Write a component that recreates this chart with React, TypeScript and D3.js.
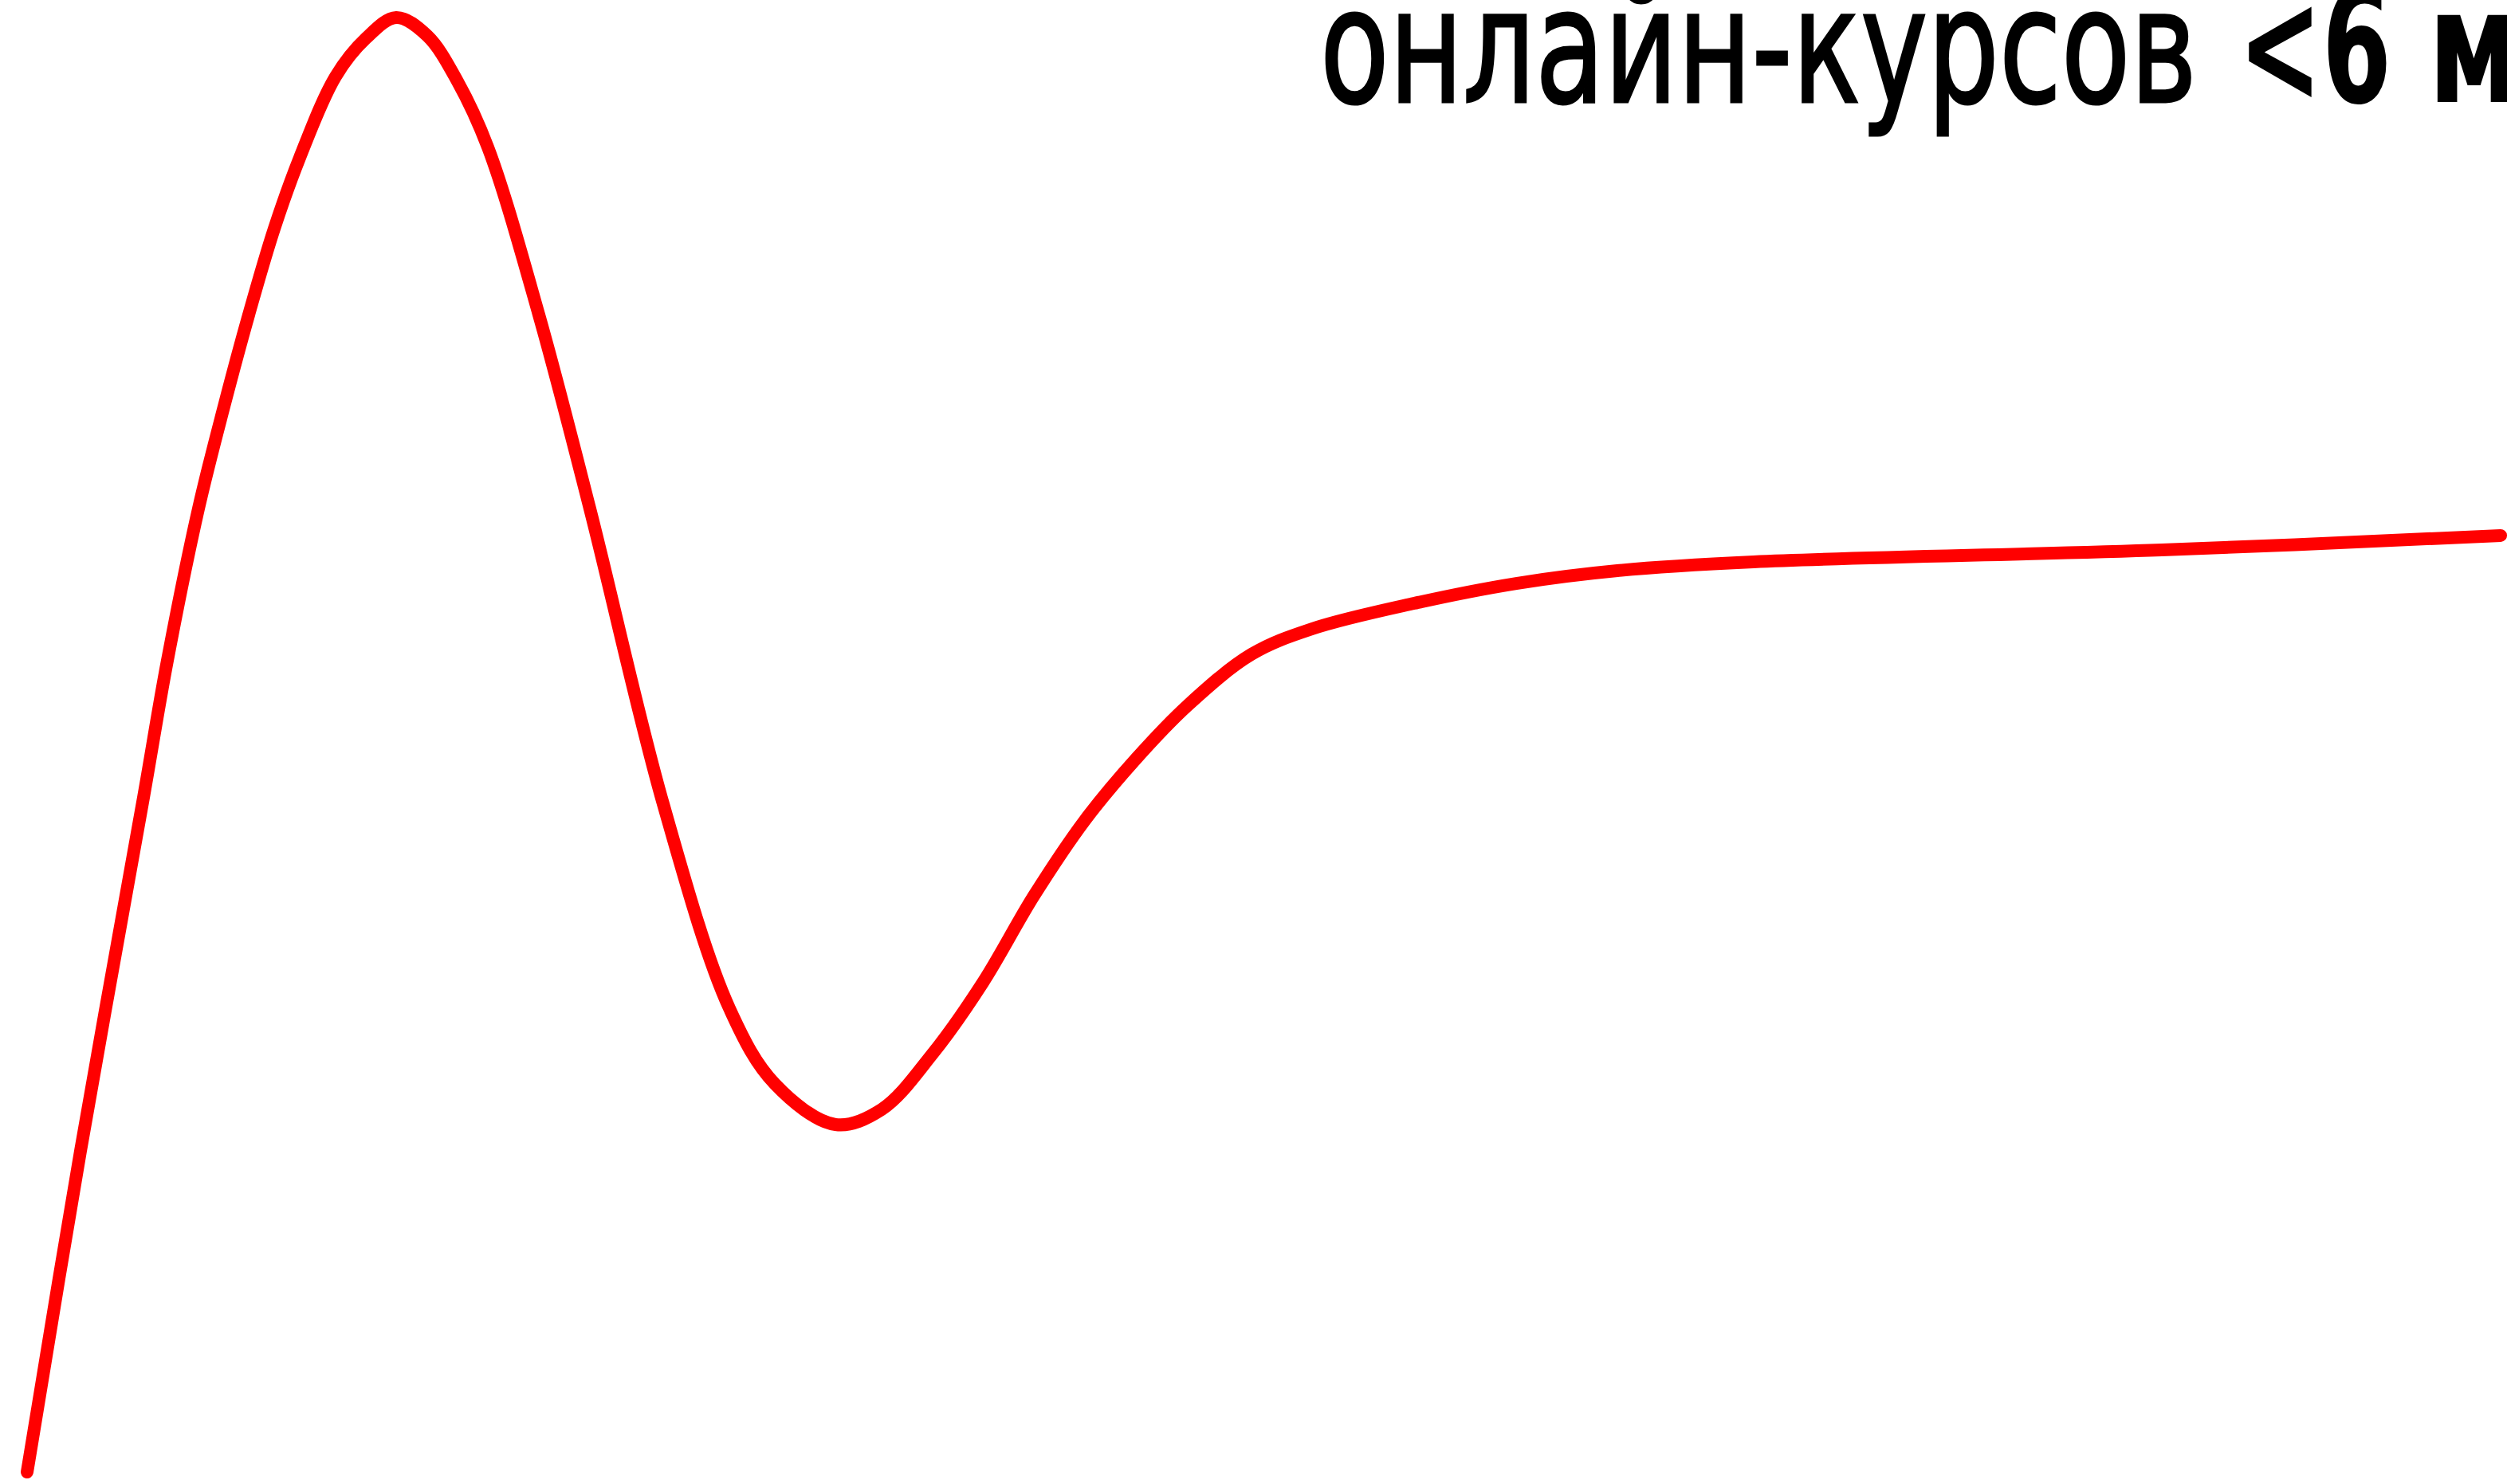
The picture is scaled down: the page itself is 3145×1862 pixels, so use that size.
import React from "react";
import * as d3 from "d3";

// Curve (abstract units: progress 0..100, level 0..100)
const progress = [
  0, 2.16, 4.71, 5.67, 6.93, 7.96, 8.96, 9.99, 11.02, 12.47, 13.7, 14.92, 16.18, 17.4,
  18.63, 20.69, 22.75, 25.72, 28.39, 30.23, 32.68, 34.55, 36.61, 38.64, 40.7, 42.77,
  44.83, 46.92, 49.5, 51.95, 56.07, 60.2, 64.29, 69.8, 86.3, 100,
];
const level = [
  0, 22.07, 46.39, 55.75, 66.21, 73.22, 79.52, 85.43, 90.31, 95.89, 98.52, 99.95,
  98.69, 95.56, 91.02, 79.52, 66.21, 45.89, 31.87, 26.67, 23.88, 24.92, 28.75, 33.63,
  39.59, 44.8, 49.01, 52.68, 56.19, 57.94, 59.69, 61.06, 61.94, 62.54, 63.36, 64.35,
];

const captionRegular = "онлайн-курсов";
const captionBold = "<6";
const captionBoldTail = "м";

export default function App() {
  const W = 3145;
  const H = 1862;
  const x = d3.scaleLinear().domain([0, 100]).range([34, 3137]);
  const y = d3.scaleLinear().domain([0, 100]).range([1847, 21]);
  const line = d3
    .line<number>()
    .x((_, i) => x(progress[i]))
    .y((d) => y(d))
    .curve(d3.curveCatmullRom.alpha(0.5));

  const font =
    "'Liberation Sans Narrow', 'DejaVu Sans Condensed', 'Roboto Condensed', 'DejaVu Sans', sans-serif";

  return (
    <svg
      width={W}
      height={H}
      viewBox={`0 0 ${W} ${H}`}
      style={{ position: "absolute", left: 0, top: 0, display: "block", background: "#ffffff" }}
    >
      <rect x={0} y={0} width={W} height={H} fill="#ffffff" />
      <path
        d={line(level) || ""}
        fill="none"
        stroke="#ff0000"
        strokeWidth={16}
        strokeLinecap="round"
        strokeLinejoin="round"
      />
      <text
        x={1656}
        y={128}
        fontFamily={font}
        fontSize={199}
        fill="#000000"
        stroke="#000000"
        strokeWidth={3}
        textLength={1100}
        lengthAdjust="spacingAndGlyphs"
        style={{ fontStretch: "condensed" }}
      >
        {captionRegular}
      </text>
      <text
        x={2808}
        y={128}
        fontFamily={font}
        fontSize={199}
        fontWeight={700}
        fill="#000000"
        textLength={192}
        lengthAdjust="spacingAndGlyphs"
        style={{ fontStretch: "condensed" }}
      >
        {captionBold}
      </text>
      <text
        x={3046}
        y={128}
        fontFamily={font}
        fontSize={199}
        fontWeight={700}
        fill="#000000"
        textLength={115}
        lengthAdjust="spacingAndGlyphs"
        style={{ fontStretch: "condensed" }}
      >
        {captionBoldTail}
      </text>
    </svg>
  );
}
